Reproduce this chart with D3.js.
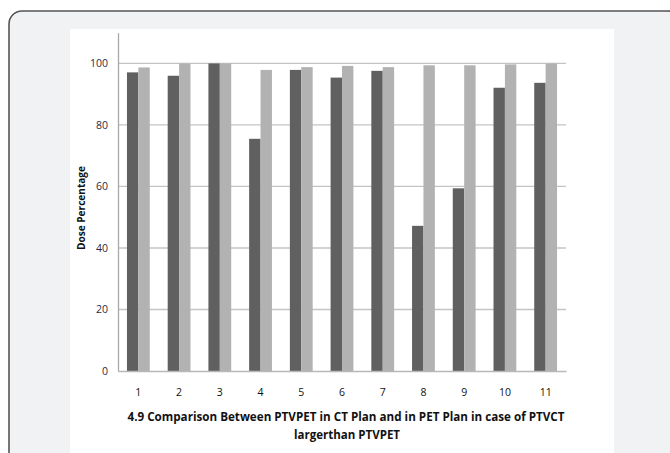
<!DOCTYPE html>
<html><head><meta charset="utf-8">
<script src="https://cdn.jsdelivr.net/npm/d3@7"></script>
<style>body{margin:0;background:#fff}svg{display:block}</style>
</head><body>
<svg id="c" width="670" height="453"></svg>
<script>
const categories = ["1","2","3","4","5","6","7","8","9","10","11"];
const ctPlan  = [97.1, 96.0, 100, 75.5, 97.9, 95.4, 97.6, 47.2, 59.4, 92.1, 93.7];
const petPlan = [98.7, 100, 100, 97.9, 98.8, 99.2, 98.8, 99.4, 99.4, 99.7, 100];
const yTicks = [0, 20, 40, 60, 80, 100];
const titleLines = ["4.9 Comparison Between PTVPET in CT Plan and in PET Plan in case of PTVCT", "largerthan PTVPET"];
const yTitle = "Dose Percentage";

const svg = d3.select("#c");
// background frame
svg.append("rect").attr("x",9).attr("y",11).attr("width",672).attr("height",460)
  .attr("rx",13).attr("fill","#f1f2f4").attr("stroke","#555").attr("stroke-width",1.6);
svg.append("rect").attr("x",70).attr("y",29).attr("width",544).attr("height",430).attr("fill","#fff");

const x0 = 118, x1 = 566, yTop = 32.7, yBot = 371;
const x = d3.scaleBand().domain(categories).range([x0, x1]).paddingInner(0).paddingOuter(0);
const y = d3.scaleLinear().domain([0, 110]).range([yBot, yTop]);

// gridlines
svg.append("g").selectAll("line").data(yTicks.filter(d=>d>0)).join("line")
  .attr("x1",x0).attr("x2",x1).attr("y1",d=>y(d)).attr("y2",d=>y(d))
  .attr("stroke","#c4c4c4").attr("stroke-width",1.3);

const bw = x.bandwidth()*0.28;
const g = svg.append("g");
categories.forEach((c,i)=>{
  const cx = x(c) + x.bandwidth()/2;
  g.append("rect").attr("x",cx-bw).attr("y",y(ctPlan[i])).attr("width",bw).attr("height",y(0)-y(ctPlan[i]))
    .attr("fill","#606060");
  g.append("rect").attr("x",cx).attr("y",y(petPlan[i])).attr("width",bw).attr("height",y(0)-y(petPlan[i]))
    .attr("fill","#b2b2b2");
});

// axes
const yAxis = d3.axisLeft(y).tickValues(yTicks).tickSize(0).tickPadding(10);
const ya = svg.append("g").attr("transform",`translate(${x0},0)`).call(yAxis);
ya.select(".domain").attr("stroke","#a8a8a8").attr("stroke-width",1.3);
ya.selectAll("text").attr("font-family","'Open Sans', sans-serif").attr("font-size",10.5).attr("fill","#2a2a44");

const xAxis = d3.axisBottom(x).tickSize(0).tickPadding(18);
const xa = svg.append("g").attr("transform",`translate(0,${yBot})`).call(xAxis);
xa.select(".domain").attr("stroke","#b8b8b8").attr("stroke-width",1.3);
xa.selectAll("text").attr("font-family","'Open Sans', sans-serif").attr("font-size",10.5).attr("fill","#111");

// titles
svg.append("text").attr("x",346).attr("y",421).attr("text-anchor","middle")
  .attr("font-family","'Open Sans', sans-serif").attr("font-weight","bold").attr("font-size",12)
  .attr("textLength",437).attr("lengthAdjust","spacingAndGlyphs").attr("fill","#111").text(titleLines[0]);
svg.append("text").attr("x",347).attr("y",438.5).attr("text-anchor","middle")
  .attr("font-family","'Open Sans', sans-serif").attr("font-weight","bold").attr("font-size",12)
  .attr("textLength",106).attr("lengthAdjust","spacingAndGlyphs").attr("fill","#111").text(titleLines[1]);
svg.append("text").attr("transform","translate(84.5,208) rotate(-90)").attr("text-anchor","middle")
  .attr("font-family","'Open Sans', sans-serif").attr("font-weight","bold").attr("font-size",10)
  .attr("textLength",84).attr("lengthAdjust","spacingAndGlyphs").attr("fill","#111").text(yTitle);
</script>
</body></html>
